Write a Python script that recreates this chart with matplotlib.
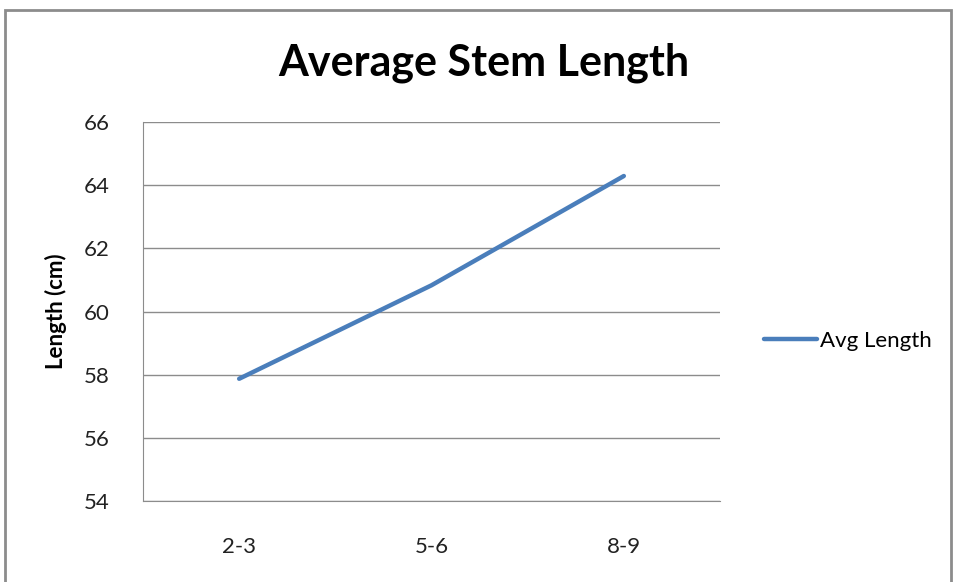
import matplotlib.pyplot as plt
from matplotlib.patches import Rectangle

categories = ['2-3', '5-6', '8-9']
avg_length = [57.87, 60.83, 64.29]
y_ticks = [54, 56, 58, 60, 62, 64, 66]

plt.rcParams['font.family'] = ['Lato', 'DejaVu Sans']

fig = plt.figure(figsize=(9.56, 5.82), dpi=100)
ax = fig.add_axes([143 / 956, 1 - 501 / 582, (720 - 143) / 956, (501 - 122) / 582])

x = [i + 0.5 for i in range(len(categories))]
line, = ax.plot(x, avg_length, color='#4a7ebb', linewidth=3.2, solid_capstyle='round', label='Avg Length')

ax.set_xlim(0, len(categories))
ax.set_ylim(54, 66)
ax.set_yticks(y_ticks)
ax.set_xticks(x)
ax.set_xticklabels(categories)
ax.tick_params(length=0, labelsize=16, colors='#222222')
ax.tick_params(axis='y', pad=24)
ax.tick_params(axis='x', pad=26)
ax.grid(axis='y', color='#8c8c8c', linewidth=1)
ax.set_axisbelow(True)
for side in ['top', 'right']:
    ax.spines[side].set_visible(False)
for side in ['left', 'bottom']:
    ax.spines[side].set_color('#8c8c8c')

ax.set_ylabel('Length (cm)', fontsize=16, fontweight='bold', labelpad=12)
fig.text(484 / 956, 1 - 63 / 582, 'Average Stem Length', ha='center', va='center',
         fontsize=31, fontweight='bold')

fig.legend(handles=[line], loc='center left', bbox_to_anchor=(744 / 956, 1 - 341 / 582),
           frameon=False, fontsize=16, handlelength=2.4, handletextpad=0.1)

fig.patches.append(Rectangle((5 / 956, -0.05), 946 / 956, 1 - 10 / 582 + 0.05,
                             transform=fig.transFigure, fill=False,
                             edgecolor='#8c8c8c', linewidth=2))

fig.savefig('out.png', dpi=100)
